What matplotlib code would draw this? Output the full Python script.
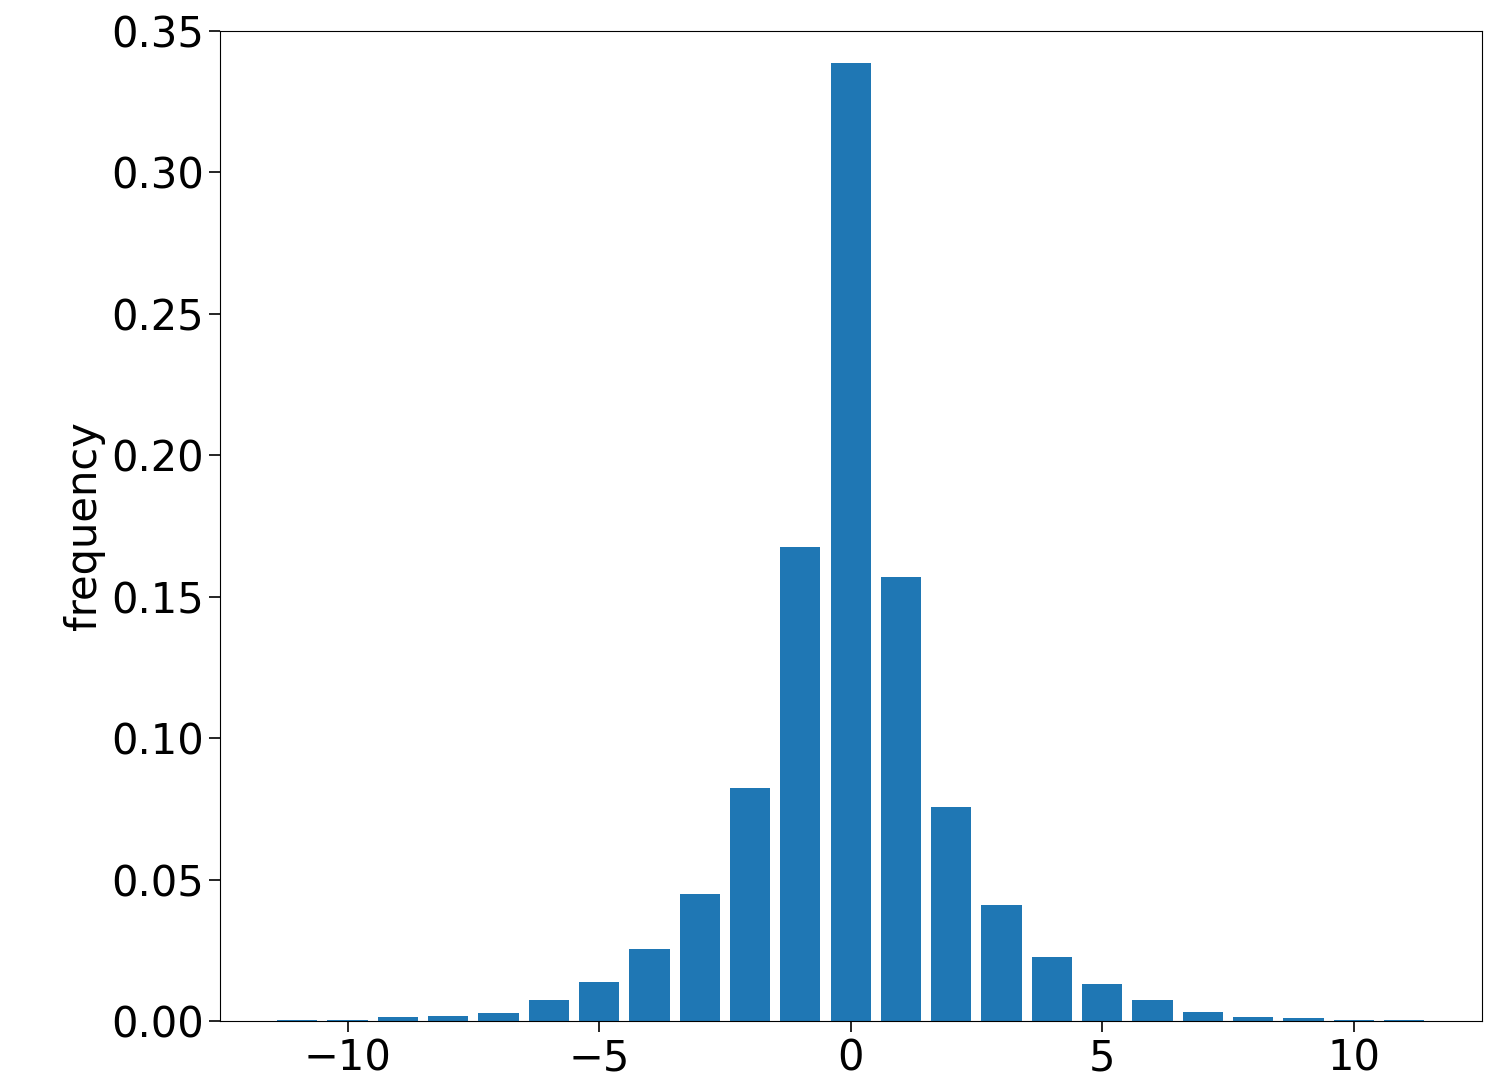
import matplotlib
matplotlib.use("Agg")
import matplotlib.pyplot as plt

bins = list(range(-11, 12))
freq = [0.0003, 0.0003, 0.0014, 0.002, 0.003, 0.0074, 0.0138, 0.0254, 0.0449, 0.0823,
        0.1674, 0.3384, 0.1568, 0.0756, 0.041, 0.0226, 0.0131, 0.0074, 0.0032, 0.0014,
        0.0012, 0.0003, 0.0003]

fig, ax = plt.subplots(figsize=(14.95, 10.91), dpi=100)
ax.bar(bins, freq, width=0.8, color='#1f77b4')
ax.set_ylabel('frequency', fontsize=30)
ax.set_xticks([-10, -5, 0, 5, 10])
ax.tick_params(labelsize=30, length=8, width=1.2)
ax.set_ylim(0, 0.35)
plt.subplots_adjust(left=0.147, right=0.991, top=0.972, bottom=0.064)
plt.savefig('out.png', dpi=100, facecolor='white')
